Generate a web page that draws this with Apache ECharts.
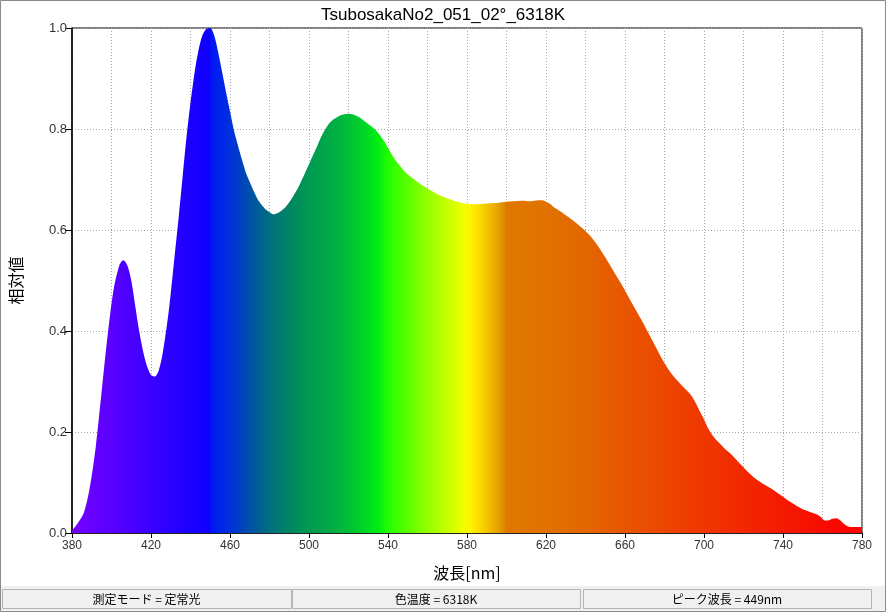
<!DOCTYPE html>
<html>
<head>
<meta charset="utf-8">
<script src="https://cdn.jsdelivr.net/npm/echarts@6/dist/echarts.min.js"></script>
<style>
html,body{margin:0;padding:0;background:#fff;}
#c{width:886px;height:612px;}
</style>
</head>
<body>
<div id="c"></div>
<script>
var titleText = 'TsubosakaNo2_051_02°_6318K';
var xName = '波長[nm]';
var yName = '相対値';
var statusTexts = ['測定モード = 定常光', '色温度 = 6318K', 'ピーク波長 = 449nm'];

var wavelengths = [380,383,386,389,392,395,398,401,404,406,408,410,412,414,416,418,420,422,423,424,425,426,427,428,429,430,431,432,434,436,438,440,442,444,446,448,450,452,454,456,458,460,462,464,466,468,470,472,474,476,478,480,482,484,486,488,490,492,494,496,498,500,502,504,506,508,510,512,514,516,518,520,522,524,526,528,530,532,534,536,538,540,542,544,546,548,550,552,554,556,558,560,564,568,572,576,580,584,588,592,596,600,604,608,612,616,618,620,622,624,626,628,630,634,638,642,646,650,654,658,662,666,670,674,678,682,686,690,692,694,696,698,700,702,704,706,708,710,714,718,722,726,730,734,738,742,746,750,754,757,759,761,763,765,767,769,771,773,776,780];
var intensity = [0.005,0.02,0.04,0.09,0.17,0.28,0.39,0.48,0.53,0.54,0.53,0.50,0.45,0.40,0.36,0.33,0.313,0.31,0.314,0.323,0.338,0.358,0.383,0.41,0.44,0.475,0.512,0.55,0.625,0.705,0.785,0.852,0.91,0.955,0.985,0.998,1.0,0.985,0.952,0.913,0.873,0.835,0.797,0.768,0.74,0.714,0.695,0.677,0.661,0.65,0.641,0.635,0.631,0.633,0.638,0.645,0.655,0.667,0.68,0.696,0.713,0.73,0.748,0.765,0.783,0.798,0.81,0.818,0.823,0.827,0.829,0.83,0.829,0.826,0.822,0.816,0.81,0.804,0.797,0.787,0.776,0.763,0.749,0.737,0.727,0.718,0.71,0.704,0.698,0.692,0.687,0.682,0.673,0.666,0.66,0.655,0.652,0.651,0.652,0.653,0.654,0.656,0.657,0.658,0.657,0.659,0.659,0.656,0.652,0.645,0.64,0.635,0.629,0.618,0.605,0.59,0.57,0.546,0.52,0.494,0.466,0.438,0.41,0.38,0.35,0.324,0.304,0.287,0.279,0.27,0.256,0.24,0.225,0.208,0.195,0.185,0.177,0.169,0.155,0.138,0.122,0.108,0.097,0.088,0.077,0.066,0.056,0.047,0.041,0.037,0.032,0.025,0.025,0.028,0.029,0.025,0.018,0.013,0.012,0.012];

var stopNm = [380,400,420,440,449.5,450.5,460,470,480,490,500,510,520,530,535,540,550,560,570,578,582,588,595,599.3,600,620,640,660,680,700,720,740,760,780];
var stopColors = ['#7400ff','#5a00ff','#3a00ff','#1a00ff','#0e00ff','#0018f4','#0030dc','#0050a8','#006f80','#008662','#009a52','#00a846','#00bf36','#00dc22','#00ee12','#22ff00','#5cff00','#94ff00','#c6ff00','#eeff00','#fff200','#f8d200','#eaa600','#d98600','#e07800','#e07200','#e46600','#e85600','#ec4600','#f03600','#f22800','#f41a00','#f80c00','#ff0000'];

var xTickLabels = [380,420,460,500,540,580,620,660,700,740,780];
var yTickLabels = ['0.0','0.2','0.4','0.6','0.8','1.0'];

var data = wavelengths.map(function(w,i){return [w,intensity[i]];});
var stops = stopNm.map(function(n,i){return {offset:(n-380)/400,color:stopColors[i]};});

var chart = echarts.init(document.getElementById('c'), null, {renderer:'canvas'});
var fontNarrow = '"Liberation Sans Narrow","Liberation Sans",Arial,sans-serif';
var fontMain = '"Liberation Sans",Arial,"Noto Sans CJK JP",sans-serif';
var gridStyle = {color:'#a8a8a8', type:[1,2], width:1};

var graphics = [
  {type:'rect', shape:{x:0,y:586,width:886,height:26}, style:{fill:'#f0f0f0'}, z:-1},
  {type:'rect', shape:{x:0.5,y:0.5,width:885,height:611}, style:{fill:null, stroke:'#8a8a8a', lineWidth:1}, z:10}
];
var panels = [[2,289],[292,288],[583,288]];
panels.forEach(function(p,i){
  graphics.push({type:'rect', shape:{x:p[0]+0.5,y:589.5,width:p[1],height:19}, style:{fill:'#f0f0f0', stroke:'#b4b4b4', lineWidth:1}});
  graphics.push({type:'text', x:p[0]+p[1]/2, y:599.5, style:{text:statusTexts[i], fill:'#000', font:'12px "Noto Sans CJK JP",sans-serif', align:'center', verticalAlign:'middle'}});
});

chart.setOption({
  animation:false,
  backgroundColor:'#ffffff',
  title:{text:titleText, left:'center', top:2, textStyle:{fontSize:17, fontWeight:'normal', color:'#000', fontFamily:fontMain}},
  grid:{left:72, right:24, top:28, bottom:79, show:true, borderColor:'#000', borderWidth:1, backgroundColor:'transparent'},
  xAxis:{
    type:'value', min:380, max:780, interval:40,
    name:xName, nameLocation:'middle', nameGap:32,
    nameTextStyle:{fontSize:16, color:'#000', fontFamily:'"Noto Sans CJK JP",sans-serif'},
    axisLine:{show:true, lineStyle:{color:'#000', width:1.5}},
    axisTick:{show:true, length:5, lineStyle:{color:'#000'}},
    axisLabel:{color:'#333', fontSize:12, fontFamily:fontNarrow, margin:7, formatter:function(v){return xTickLabels.indexOf(v)>=0? String(v):'';}},
    splitLine:{show:true, lineStyle:gridStyle},
    minorTick:{show:false, splitNumber:2},
    minorSplitLine:{show:true, lineStyle:gridStyle}
  },
  yAxis:{
    type:'value', min:0, max:1, interval:0.2,
    name:yName, nameLocation:'middle', nameGap:48,
    nameTextStyle:{fontSize:16, color:'#000', fontFamily:'"Noto Sans CJK JP",sans-serif'},
    axisLine:{show:true, lineStyle:{color:'#000', width:1.5}},
    axisTick:{show:true, length:7, lineStyle:{color:'#000'}},
    axisLabel:{color:'#333', fontSize:13, fontFamily:fontNarrow, margin:5, formatter:function(v){return yTickLabels[Math.round(v*5)];}},
    splitLine:{show:true, lineStyle:gridStyle}
  },
  series:[{
    type:'line', data:data, showSymbol:false, smooth:0.3,
    lineStyle:{width:0},
    areaStyle:{opacity:1, color:{type:'linear', x:0, y:0, x2:1, y2:0, colorStops:stops}},
    silent:true
  }],
  graphic:graphics
});
</script>
</body>
</html>
